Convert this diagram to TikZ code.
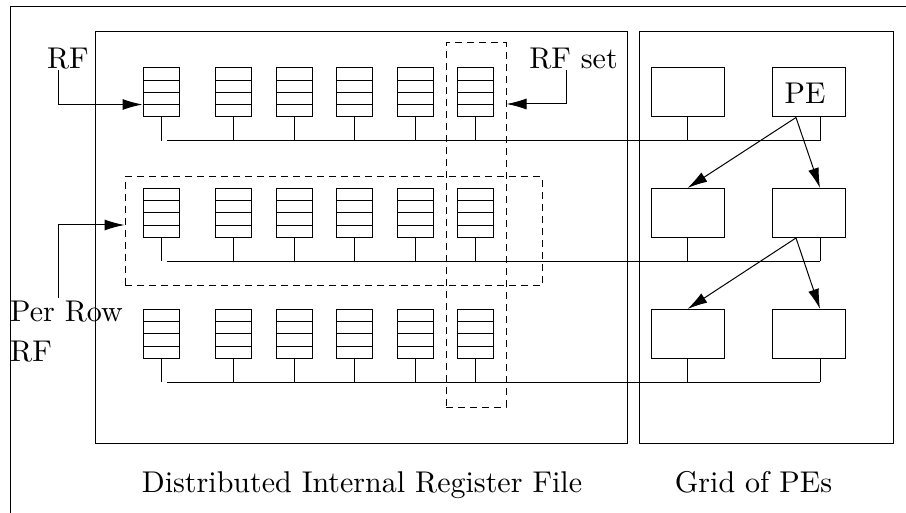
\documentclass[tikz,border=0pt]{standalone}
\usepackage{fontspec}
\setmainfont{lmroman10-regular.otf}
\usepackage{tikz}
\usetikzlibrary{arrows.meta}

\begin{document}
\begin{tikzpicture}[x=1pt,y=-1pt,
        every node/.style={font=\fontsize{30}{40}\selectfont},
        wire/.style={line width=1pt},
        regfile/.style={draw,line width=1pt,minimum width=36pt,minimum height=49pt,inner sep=0pt,
          path picture={\foreach \k in {1,2,3}
            \draw[line width=1pt] ([yshift=\k*12.25pt]path picture bounding box.south west) -- ([yshift=\k*12.25pt]path picture bounding box.south east);}},
        pebox/.style={draw,line width=1pt,minimum width=73pt,minimum height=49pt,inner sep=0pt},
        frame/.style={draw,line width=1pt,inner sep=0pt},
        setbox/.style={draw,dash pattern=on 7pt off 5pt,line width=1pt,inner sep=0pt},
        bigarrow/.style={-{Latex[length=20pt,width=11pt]},line width=1pt}]
        \useasboundingbox (0,0) rectangle (906,513);
        \draw[wire] (10,513) -- (10,7) -- (906,7);
        \node[frame,minimum width=532pt,minimum height=411pt] (dirf) at (361,237.5) {};
        \node[frame,minimum width=254pt,minimum height=411pt] (grid) at (766,237.5) {};
        \foreach \r/\y in {1/92.5,2/213,3/334}{
          \foreach \c/\x in {1/161,2/233,3/294,4/354,5/415,6/475}
            \node[regfile] (rf\r\c) at (\x,\y) {};
          \node[pebox] (pe\r1) at (687.5,\y) {};
          \node[pebox] (pe\r2) at (808.5,\y) {};
          \coordinate (busa\r) at (167,\y+48.5);
          \coordinate (busb\r) at (820,\y+48.5);
          \foreach \c in {1,...,6}
            \draw[wire] (rf\r\c.south) -- (rf\r\c.south |- busa\r);
          \draw[wire] (pe\r1.south) -- (pe\r1.south |- busa\r);
          \draw[wire] ([xshift=11.5pt]pe\r2.south) -- (busb\r);
          \draw[wire] (busa\r) -- (busb\r);
        }
        \node (pelbl) at (805,93) {PE};
        \draw[bigarrow] ([xshift=-12.5pt]pe12.south) -- (pe21.north);
        \draw[bigarrow] ([xshift=-12.5pt]pe12.south) -- ([xshift=11.5pt]pe22.north);
        \draw[bigarrow] ([xshift=-12.5pt]pe22.south) -- (pe31.north);
        \draw[bigarrow] ([xshift=-12.5pt]pe22.south) -- ([xshift=11.5pt]pe32.north);
        \node[setbox,minimum width=60pt,minimum height=364pt] (rfset) at (476,225) {};
        \node[setbox,minimum width=417pt,minimum height=109pt] (rowset) at (333.5,231.5) {};
        \node[inner sep=0pt,anchor=base] (lblrf) at (68,69) {RF};
        \node[inner sep=0pt,anchor=base] (lblset) at (573.5,69) {RF set};
        \node[inner sep=0pt,anchor=north west,align=left] (lblrow) at (10,301) {Per Row\\RF};
        \node[anchor=base] (lbldirf) at (362,492) {Distributed Internal Register File};
        \node[anchor=base] (lblgrid) at (753.5,492) {Grid of PEs};
        \coordinate (setin) at (rfset.east |- 0,104);
        \draw[bigarrow] ([xshift=-10pt]lblrf.south) |- ([yshift=-12pt]rf11.west);
        \draw[bigarrow] ([xshift=-7.5pt]lblset.south) |- (setin);
        \draw[bigarrow] ([xshift=48pt,yshift=3pt]lblrow.north west) |- ([yshift=6.5pt]rowset.west);
\end{tikzpicture}
\end{document}
